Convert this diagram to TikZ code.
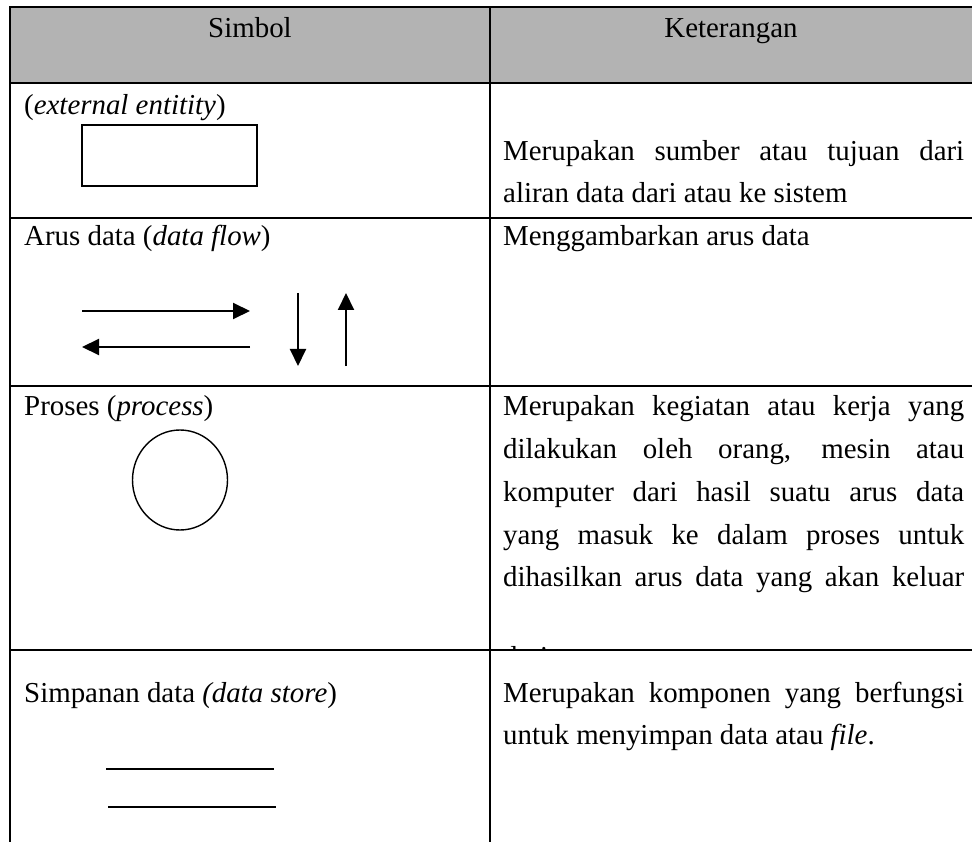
\documentclass[tikz,border=0pt]{standalone}
\usepackage{fontspec}
\setmainfont{Liberation Serif}
\usetikzlibrary{arrows.meta}
\definecolor{hdrgray}{RGB}{179,179,179}
\begin{document}
\begin{tikzpicture}[x=1pt,y=-1pt,
  txt/.style={anchor=base west, inner sep=0pt, font=\fontsize{28.9}{42.7}\selectfont},
  ctr/.style={anchor=base, inner sep=0pt, font=\fontsize{28.9}{42.7}\selectfont},
  rule/.style={line width=2.2pt},
  symline/.style={line width=1.4pt},
  flow/.style={line width=2pt, -{Triangle[length=17pt,width=16pt]}}]
\useasboundingbox (0,0) rectangle (972,842);
% header fill
\fill[hdrgray] (9,7) rectangle (972,83);
% table rules
\draw[rule] (9,7) -- (972,7);
\draw[rule] (9,83) -- (972,83);
\draw[rule] (9,218) -- (972,218);
\draw[rule] (9,386) -- (972,386);
\draw[rule] (9,650) -- (972,650);
\draw[rule] (10,7) -- (10,842);
\draw[rule] (490,7) -- (490,842);
% header
\node[ctr] (hsym) at (250,38) {Simbol};
\node[ctr] (hket) at (731,38) {Keterangan};
% row 1
\node[txt] (l1) at (24,115) {(\textit{external entitity})};
\draw[symline] (82,125) rectangle (257,186);
\node[txt] (r1a) at (503,161) {\makebox[461pt][s]{Merupakan sumber atau tujuan dari}};
\node[txt] (r1b) at (503,203) {aliran data dari atau ke sistem};
% row 2
\node[txt] (l2) at (24,246) {Arus data (\textit{data flow})};
\node[txt] (r2) at (503,246) {Menggambarkan arus data};
\coordinate (a1s) at (82,311); \coordinate (a1e) at (250,311);
\coordinate (a2s) at (250,347); \coordinate (a2e) at (82,347);
\coordinate (a3s) at (298,293); \coordinate (a3e) at (298,366);
\coordinate (a4s) at (346,366); \coordinate (a4e) at (346,293);
\draw[flow] (a1s) -- (a1e);
\draw[flow] (a2s) -- (a2e);
\draw[flow] (a3s) -- (a3e);
\draw[flow] (a4s) -- (a4e);
% row 3
\node[txt] (l3) at (24,415) {Proses (\textit{process})};
\draw[symline] (180,480) ellipse [x radius=47.5, y radius=50];
\node[txt] (r3a) at (503,415) {\makebox[461pt][s]{Merupakan kegiatan atau kerja yang}};
\node[txt] (r3b) at (503,458) {\makebox[461pt][s]{dilakukan oleh orang, mesin atau}};
\node[txt] (r3c) at (503,501) {\makebox[461pt][s]{komputer dari hasil suatu arus data}};
\node[txt] (r3d) at (503,544) {\makebox[461pt][s]{yang masuk ke dalam proses untuk}};
\node[txt] (r3e) at (503,586) {\makebox[461pt][s]{dihasilkan arus data yang akan keluar}};
\begin{scope}
\clip (495,640) rectangle (970,649);
\node[txt] (r3f) at (503,666) {dari};
\end{scope}
% row 4
\node[txt] (l4) at (24,702) {Simpanan data \textit{(data store})};
\draw[symline] (106,769) -- (274,769);
\draw[symline] (108,807) -- (276,807);
\node[txt] (r4a) at (503,702) {\makebox[461pt][s]{Merupakan komponen yang berfungsi}};
\node[txt] (r4b) at (503,744) {untuk menyimpan data atau \textit{file}.};
\end{tikzpicture}
\end{document}
